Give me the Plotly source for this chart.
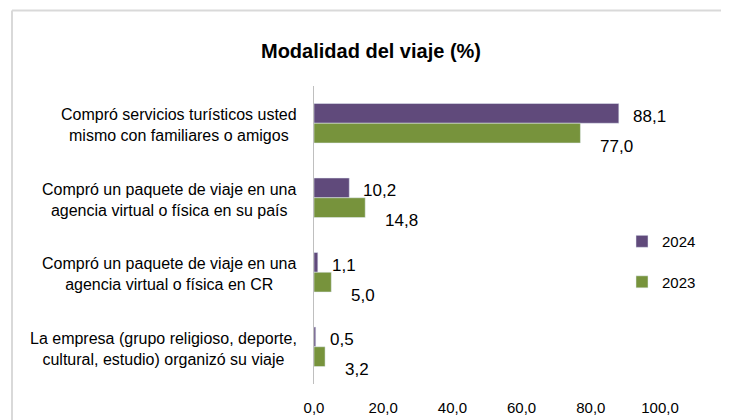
import plotly.graph_objects as go

CATEGORIES = [
    'Compró servicios turísticos usted<br>mismo con familiares o amigos',
    'Compró un paquete de viaje en una<br>agencia virtual o física en su país',
    'Compró un paquete de viaje en una<br>agencia virtual o física en CR',
    'La empresa (grupo religioso, deporte,<br>cultural, estudio) organizó su viaje',
]
VALUES_2024 = [88.1, 10.2, 1.1, 0.5]
VALUES_2023 = [77.0, 14.8, 5.0, 3.2]
X_TICKS = [0, 20, 40, 60, 80, 100]

PURPLE = '#604A7B'
GREEN = '#77933C'
FONT = 'Liberation Sans, Arial, sans-serif'

# page body has an 8px margin, so layout pixel targets are shifted back by it
OFF = 8
L, R, T, B = 314 - OFF, 660 - OFF, 86 - OFF, 386 - OFF
PW, PH = R - L, B - T


def fmt(v):
    return f'{v:.1f}'.replace('.', ',')


fig = go.Figure()
fig.add_trace(go.Bar(y=CATEGORIES, x=VALUES_2024, name='2024', orientation='h',
                     marker_color=PURPLE, legendgroup='a'))
fig.add_trace(go.Bar(y=CATEGORIES, x=VALUES_2023, name='2023', orientation='h',
                     marker_color=GREEN, legendgroup='b'))

annotations = []
for cat, v24, v23 in zip(CATEGORIES, VALUES_2024, VALUES_2023):
    # data labels, placed like the Excel original
    annotations.append(dict(x=v24, y=cat, text=fmt(v24), showarrow=False, xanchor='left',
                            xshift=12, yshift=7, font=dict(size=17, color='#000')))
    annotations.append(dict(x=v23, y=cat, text=fmt(v23), showarrow=False, xanchor='left',
                            xshift=18, yshift=-23, font=dict(size=17, color='#000')))
    # category labels, centred lines
    annotations.append(dict(x=0, xref='paper', y=cat, text=cat, showarrow=False,
                            xanchor='right', align='center', xshift=-15, yshift=-2,
                            font=dict(size=16, color='#000')))

# chart frame (left, top, right edges; bottom is off the page)
bx0, bx1 = (12 - OFF - L) / PW, (722 - OFF - L) / PW
by0, by1 = (B - 440) / PH, (B - (10 - OFF)) / PH
frame = dict(color='#D9D9D9', width=2)
shapes = [
    dict(type='line', xref='paper', yref='paper', x0=bx0, x1=bx0, y0=by0, y1=by1, line=frame),
    dict(type='line', xref='paper', yref='paper', x0=bx0, x1=bx1, y0=by1, y1=by1, line=frame),
    dict(type='line', xref='paper', yref='paper', x0=bx1, x1=bx1, y0=by0, y1=by1, line=frame),
]

fig.update_layout(
    width=729, height=420,
    margin=dict(l=L, r=729 - R, t=T, b=420 - B),
    paper_bgcolor='white', plot_bgcolor='white',
    font=dict(family=FONT, color='#000'),
    barmode='group', bargap=0.47, bargroupgap=0,
    title=dict(text='<b>Modalidad del viaje (%)</b>', x=(371 - OFF) / 729, xref='container',
               y=1 - (51 - OFF) / 420, yref='container', xanchor='center', yanchor='middle',
               font=dict(size=20, color='#000')),
    xaxis=dict(range=[0, 100], tickvals=X_TICKS, ticktext=[fmt(t) for t in X_TICKS],
               showgrid=False, zeroline=False, showline=False, ticks='',
               tickfont=dict(size=15, color='#000'), ticklabelstandoff=13),
    yaxis=dict(autorange='reversed', showticklabels=False, showgrid=False,
               showline=True, linecolor='#BFBFBF', linewidth=1, ticks=''),
    legend=dict(x=(622 - OFF - L) / PW, y=(B - (226 - OFF)) / PH, xanchor='left', yanchor='top',
                tracegroupgap=18, font=dict(size=15, color='#000'), bgcolor='rgba(0,0,0,0)'),
    annotations=annotations,
    shapes=shapes,
)

fig.write_html('out.html')
